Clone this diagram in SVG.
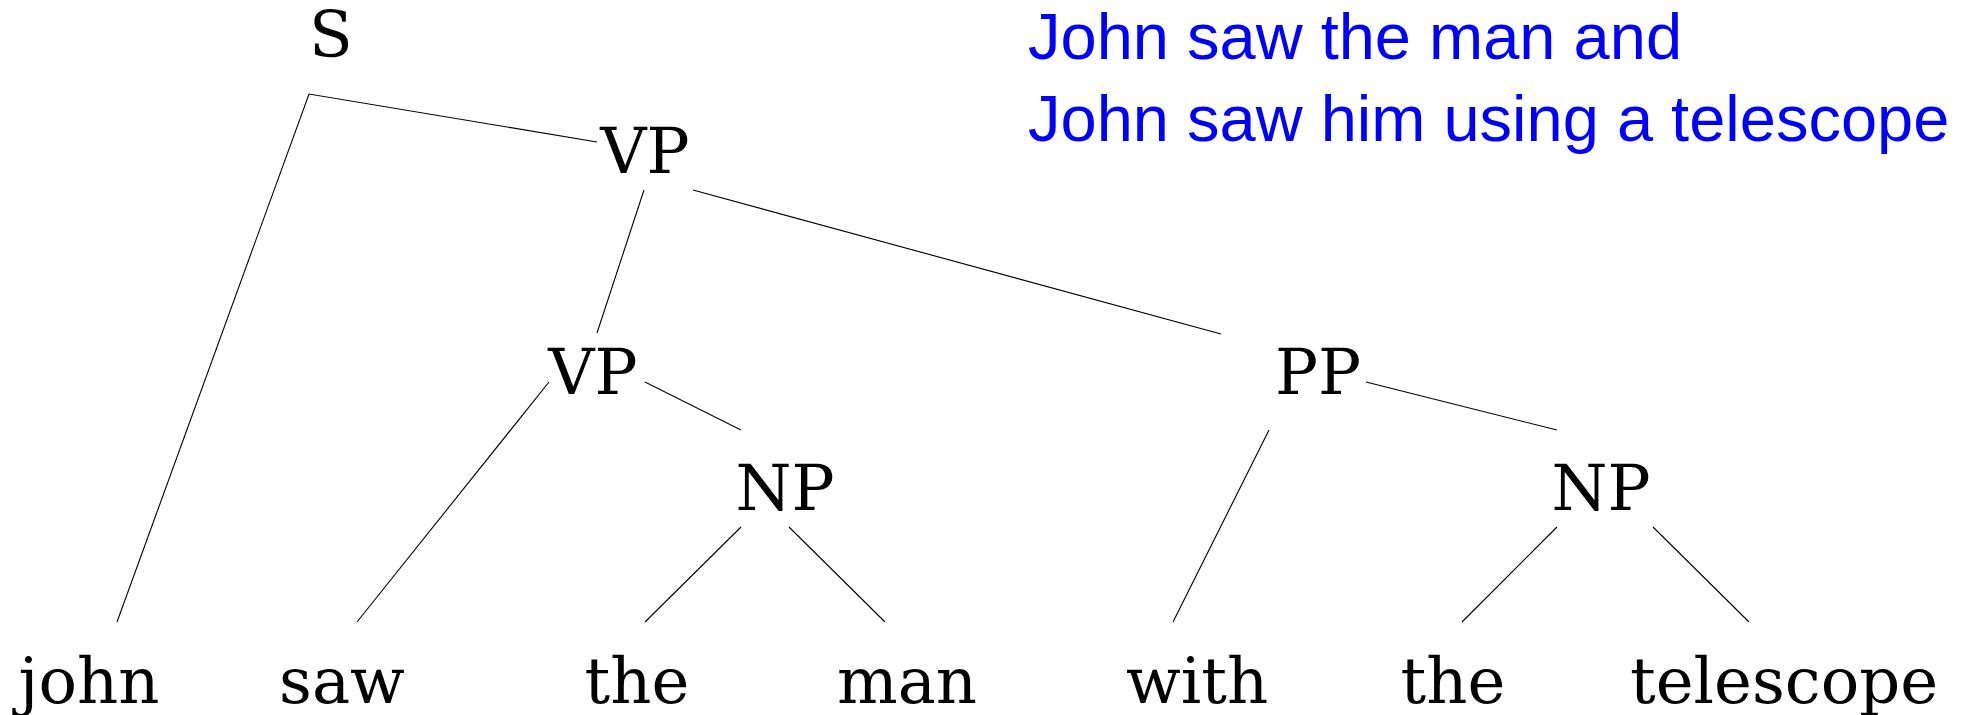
<svg xmlns="http://www.w3.org/2000/svg" width="1961" height="715" viewBox="0 0 1961 715">
  <style>
    .lbl { font-family: "DejaVu Serif", serif; font-size: 64px; fill: #000; text-anchor: middle; }
    .note { font-family: "Liberation Sans", Arial, sans-serif; font-size: 65px; fill: #0000ff; }
    .edge { stroke: #000; stroke-width: 1.1; fill: none; }
  </style>
  <rect width="1961" height="715" fill="#fff"/>

  <!-- tree edges -->
  <g id="connectors">
    <polyline class="edge" points="597,142 309,94 117,622"/>
    <line class="edge" x1="644" y1="190" x2="597" y2="333"/>
    <line class="edge" x1="693" y1="190" x2="1221" y2="334"/>
    <line class="edge" x1="549" y1="382" x2="357" y2="622"/>
    <line class="edge" x1="645" y1="382" x2="741" y2="430"/>
    <line class="edge" x1="741" y1="527" x2="645" y2="622"/>
    <line class="edge" x1="789" y1="527" x2="885" y2="622"/>
    <line class="edge" x1="1269" y1="430" x2="1173" y2="622"/>
    <line class="edge" x1="1366" y1="382" x2="1557" y2="430"/>
    <line class="edge" x1="1557" y1="527" x2="1462" y2="622"/>
    <line class="edge" x1="1653" y1="527" x2="1749" y2="622"/>
  </g>

  <!-- phrase nodes -->
  <g id="node-S"><text class="lbl" x="331" y="57">S</text></g>
  <g id="node-VP1"><text class="lbl" x="645" y="173">VP</text></g>
  <g id="node-VP2"><text class="lbl" x="593" y="394">VP</text></g>
  <g id="node-PP"><text class="lbl" x="1318" y="394">PP</text></g>
  <g id="node-NP1"><text class="lbl" x="785" y="510">NP</text></g>
  <g id="node-NP2"><text class="lbl" x="1601" y="510">NP</text></g>

  <!-- leaves -->
  <g id="leaf-john"><text class="lbl" x="89" y="703">john</text></g>
  <g id="leaf-saw"><text class="lbl" x="342" y="703">saw</text></g>
  <g id="leaf-the1"><text class="lbl" x="637" y="703">the</text></g>
  <g id="leaf-man"><text class="lbl" x="907" y="703">man</text></g>
  <g id="leaf-with"><text class="lbl" x="1197" y="703">with</text></g>
  <g id="leaf-the2"><text class="lbl" x="1453" y="703">the</text></g>
  <g id="leaf-telescope"><text class="lbl" x="1784" y="703">telescope</text></g>

  <!-- reading of the parse -->
  <g id="caption">
    <text class="note" x="1028" y="59">John saw the man and</text>
    <text class="note" x="1028" y="141">John saw him using a telescope</text>
  </g>
</svg>
